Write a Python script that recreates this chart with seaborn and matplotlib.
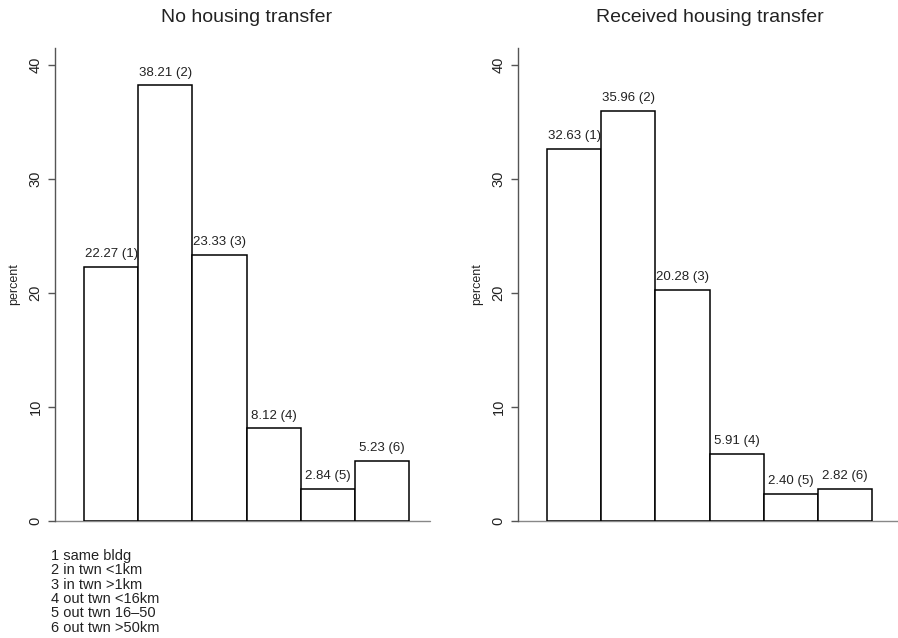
import matplotlib
matplotlib.use("Agg")
import matplotlib.pyplot as plt
import seaborn as sns
import pandas as pd

categories = ["1", "2", "3", "4", "5", "6"]
no_transfer = [22.27, 38.21, 23.33, 8.12, 2.84, 5.23]
received_transfer = [32.63, 35.96, 20.28, 5.91, 2.40, 2.82]
titles = ["No housing transfer", "Received housing transfer"]
legend_lines = ["1 same bldg", "2 in twn <1km", "3 in twn >1km",
                "4 out twn <16km", "5 out twn 16\u201350", "6 out twn >50km"]
yticks = [0, 10, 20, 30, 40]

sns.set_theme(style="white")
plt.rcParams['font.family'] = ['Liberation Sans', 'DejaVu Sans']

W, H = 898, 638
fig = plt.figure(figsize=(W / 100, H / 100), dpi=100)

def px_axes(x0, x1, ytop, ybot):
    return fig.add_axes([x0 / W, (H - ybot) / H, (x1 - x0) / W, (ybot - ytop) / H])

axes = [px_axes(55, 430, 48, 521), px_axes(518, 898, 48, 521)]
unit = 54.2
for ax, vals, title in zip(axes, [no_transfer, received_transfer], titles):
    df = pd.DataFrame({"cat": categories, "val": vals})
    sns.barplot(data=df, x="cat", y="val", order=categories, ax=ax,
                color="white", edgecolor="black", linewidth=1.1, width=1.0,
                errorbar=None, saturation=1)
    lo = -0.5 - 29 / unit
    width_px = ax.get_position().width * W
    ax.set_xlim(lo, lo + width_px / unit)
    ax.set_ylim(0, 41.5)
    for i, v in enumerate(vals):
        ax.annotate(f"{v:.2f} ({categories[i]})", (i, v), xytext=(0, 5),
                    textcoords="offset points", ha="center", va="bottom",
                    fontsize=9.5, color="#222222")
    ax.axhline(0, color="#888888", lw=1.0, clip_on=False, zorder=0)
    for s in ["top", "right", "bottom"]:
        ax.spines[s].set_visible(False)
    ax.spines["left"].set_color("#555555")
    ax.spines["left"].set_linewidth(1.0)
    ax.set_yticks(yticks)
    ax.set_yticklabels([str(t) for t in yticks], rotation=90, va="center",
                       fontsize=10.5, color="#222222")
    ax.tick_params(axis="y", left=True, length=5, width=1.0, color="#555555", pad=4)
    ax.set_xticks([])
    ax.set_xlabel("")
    ax.set_ylabel("percent", fontsize=9, color="#222222", labelpad=6)
    ax.text(2.5, 1 + (48 - 18) / (521 - 48), title, transform=ax.get_xaxis_transform(),
            ha="center", va="center", fontsize=14, color="#222222")

fig.text(51 / W, 1 - 549 / H, "\n".join(legend_lines), ha="left", va="top",
         fontsize=10.5, linespacing=1.03, color="#222222")

fig.savefig("out.png", dpi=100)
